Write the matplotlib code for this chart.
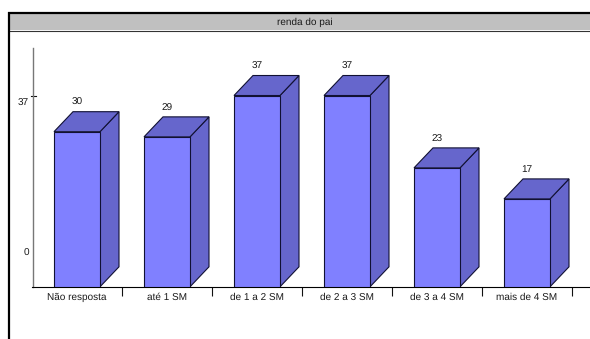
import matplotlib
matplotlib.use("Agg")
import matplotlib.pyplot as plt
from matplotlib.patches import Polygon, Rectangle
from matplotlib.lines import Line2D

plt.rcParams['font.family'] = ['Liberation Sans', 'DejaVu Sans']
plt.rcParams['text.hinting'] = 'none'
plt.rcParams['text.hinting_factor'] = 1

title = "renda do pai"
categories = ["Não resposta", "até 1 SM", "de 1 a 2 SM", "de 2 a 3 SM", "de 3 a 4 SM", "mais de 4 SM"]
values = [30, 29, 37, 37, 23, 17]
y_tick_value = 37

W, H, DPI = 590, 339, 100
FRONT = "#8080ff"
SHADE = "#6666cc"
INK = "#1a1a1a"
FS = 7.4

fig = plt.figure(figsize=(W / DPI, H / DPI), dpi=DPI, facecolor="white")

# Pixel-space layer for the outer frame and the title band
bg = fig.add_axes([0, 0, 1, 1])
bg.set_xlim(0, W)
bg.set_ylim(H, 0)
bg.axis("off")
bg.add_patch(Rectangle((9, 14), W - 9, 16, fc="#c0c0c0", ec="none", zorder=1))
bg.add_line(Line2D([9, W], [30.5, 30.5], color="#333333", lw=0.8, zorder=2))
bg.add_line(Line2D([9, 9], [12, H], color="black", lw=1.6, zorder=3, solid_capstyle="butt"))
bg.add_line(Line2D([8, W], [13.2, 13.2], color="black", lw=1.6, zorder=3, solid_capstyle="butt"))
bg.text(304.5, 22.8, title, ha="center", va="center", fontsize=FS, color=INK)

# Plot area: one x unit per category, y in data values
x0, x1 = 32.0, W
base_px, top_px = 286.8, 48.0
px_per_val = 5.17
cat_px = 90.0
ax = fig.add_axes([x0 / W, 1 - base_px / H, (x1 - x0) / W, (base_px - top_px) / H])
ax.patch.set_alpha(0)
ax.set_xlim(0, (x1 - x0) / cat_px)
ax.set_ylim(0, (base_px - top_px) / px_per_val)

bar_w = 46.0 / cat_px
dx = 19.0 / cat_px
dy = 20.0 / px_per_val
edge = dict(ec="#111133", lw=0.8, joinstyle="miter")

for i, (cat, v) in enumerate(zip(categories, values)):
    left = i + 0.5 - bar_w / 2
    right = left + bar_w
    ax.add_patch(Polygon([(right, 0), (right + dx, dy), (right + dx, v + dy), (right, v)],
                         closed=True, fc=SHADE, zorder=3, **edge))
    ax.add_patch(Polygon([(left, v), (left + dx, v + dy), (right + dx, v + dy), (right, v)],
                         closed=True, fc=SHADE, zorder=3, **edge))
    ax.add_patch(Rectangle((left, 0), bar_w, v, fc=FRONT, zorder=4, **edge))
    ax.annotate(str(v), (i + 0.5, v + dy), xytext=(0, 9), textcoords="offset pixels",
                ha="center", va="center", fontsize=FS, color=INK, zorder=5)

for side in ("top", "right"):
    ax.spines[side].set_visible(False)
ax.spines["left"].set_color("#777777")
ax.spines["left"].set_linewidth(1.0)
ax.spines["left"].set_position(("outward", -0.72))
ax.spines["bottom"].set_color("black")
ax.spines["bottom"].set_linewidth(0.8)

ax.set_xticks(range(1, len(categories) + 1))
ax.set_xticklabels([])
ax.tick_params(axis="x", direction="out", length=6.5, width=0.8, color="#111111")
ax.set_yticks([])

for i, cat in enumerate(categories):
    ax.annotate(cat, (i + 0.5, 0), xytext=(0, -11), textcoords="offset pixels",
                ha="center", va="center", fontsize=FS, color=INK)

# Value axis: single tick, and labels that sit below their nominal positions
ax.add_line(Line2D([-1.5 / cat_px, 3.5 / cat_px], [y_tick_value, y_tick_value],
                   color="#111111", lw=0.8, clip_on=False))
ax.annotate(str(y_tick_value), (0, y_tick_value), xytext=(-3, -7.5), textcoords="offset pixels",
            ha="right", va="center", fontsize=FS, color=INK)
ax.annotate("0", (0, 0), xytext=(-3, 33), textcoords="offset pixels",
            ha="right", va="center", fontsize=FS, color=INK)

fig.savefig("out.png", dpi=DPI, facecolor="white")
